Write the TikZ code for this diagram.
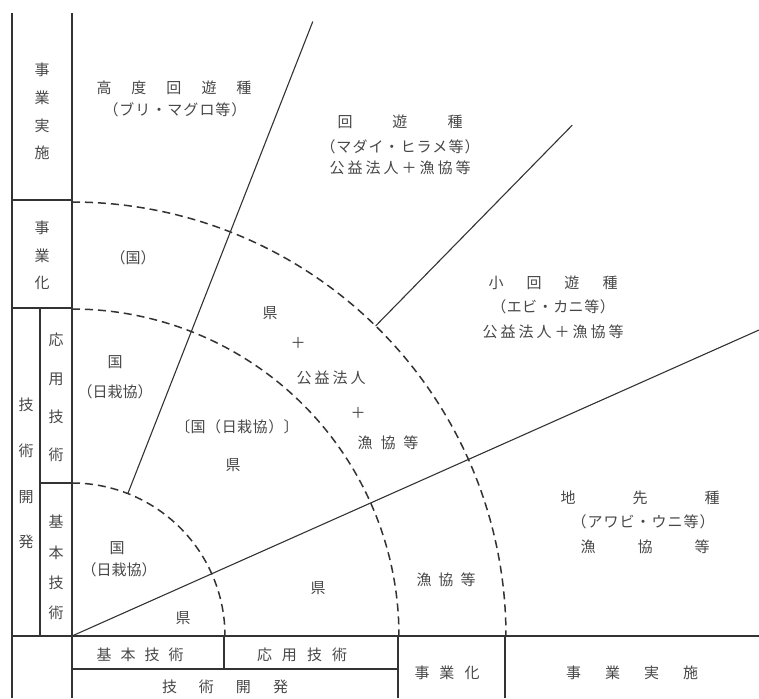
\documentclass[tikz,border=0pt]{standalone}
\usepackage{fontspec}
\setmainfont{Noto Sans CJK JP}
\usetikzlibrary{calc}
\makeatletter
\newcommand\spc[2]{\begingroup\def\spc@gap{#1}\let\spc@sep\relax\@tfor\spc@c:=#2\do{\spc@sep\spc@c\def\spc@sep{\hspace{\spc@gap pt}}}\endgroup}
\makeatother
\tikzset{
  txt/.style={font=\fontsize{15}{17}\selectfont, text=black!72, inner sep=0pt},
  vtxt/.style={align=center, text=black!72, inner sep=0pt, font=\fontsize{15}{#1}\selectfont},
  ln/.style={line width=1.1pt, draw=black!80},
  dsh/.style={line width=1.5pt, draw=black!80, dash pattern=on 8pt off 5pt}
}
\begin{document}
\begin{tikzpicture}[x=1pt,y=-1pt]
\useasboundingbox (0,0) rectangle (759,698);
\coordinate (O) at (72,636);
% frame lines
\draw[ln] (12,13) -- (12,698);
\draw[ln] (72,13) -- (72,698);
\draw[ln] (40,308) -- (40,636);
\draw[ln] (12,200) -- (72,200);
\draw[ln] (12,308) -- (72,308);
\draw[ln] (40,483) -- (72,483);
\draw[ln] (12,636) -- (759,636);
\draw[ln] (72,669) -- (398,669);
\draw[ln] (224,636) -- (224,669);
\draw[ln] (398,636) -- (398,698);
\draw[ln] (505,636) -- (505,698);
% dashed arcs
\draw[dsh] plot[domain=-90:0,samples=90] ({72+153*cos(\x)},{636+153*sin(\x)});
\draw[dsh] plot[domain=-90:0,samples=120] ({72+327*cos(\x)},{636+327*sin(\x)});
\draw[dsh] plot[domain=-90:0,samples=150] ({72+434*cos(\x)},{636+434*sin(\x)});
% rays
\coordinate (r1a) at ($(O)+(-68.6:153)$);
\coordinate (r1b) at ($(O)+(-68.6:660)$);
\coordinate (r2a) at ($(O)+(-45.6:434)$);
\coordinate (r2b) at ($(O)+(-45.6:715)$);
\coordinate (r3b) at (759,330);
\draw[ln] (r1a) -- (r1b);
\draw[ln] (r2a) -- (r2b);
\draw[ln] (O) -- (r3b);
% left column vertical texts
\node[vtxt=27.7] (t1) at (42,111.5) {事\\業\\実\\施};
\node[vtxt=27.5] (t2) at (42,255.5) {事\\業\\化};
\node[vtxt=45.7] (t3) at (26,473.5) {技\\術\\開\\発};
\node[vtxt=38.3] (t4) at (56,397.5) {応\\用\\技\\術};
\node[vtxt=30.3] (t5) at (56,567.5) {基\\本\\技\\術};
% bottom row
\node[txt] (b1) at (140,655) {\spc{9}{基本技術}};
\node[txt] (b2) at (302,655) {\spc{10}{応用技術}};
\node[txt] (b3) at (225,687) {\spc{22}{技術開発}};
\node[txt] (b4) at (447,673) {\spc{10}{事業化}};
\node[txt] (b5) at (632,673) {\spc{24}{事業実施}};
% sectors
\node[txt] (s1) at (174,88) {\spc{20}{高度回遊種}};
\node[txt] (s2) at (175,110) {\spc{1}{（ブリ・マグロ等）}};
\node[txt] (s3) at (133,258) {（国）};
\node[txt] (s4) at (400,122) {\spc{40}{回遊種}};
\node[txt] (s5) at (400,147) {\spc{1}{（マダイ・ヒラメ等）}};
\node[txt] (s6) at (400,168) {\spc{3}{公益法人＋漁協等}};
\node[txt] (s7) at (553,283) {\spc{23}{小回遊種}};
\node[txt] (s8) at (553,307) {\spc{0.5}{（エビ・カニ等）}};
\node[txt] (s9) at (553,332) {\spc{3}{公益法人＋漁協等}};
\node[txt] (c1) at (270,313) {県};
\node[txt] (c2) at (298,343) {＋};
\node[txt] (c3) at (331,378) {\spc{3}{公益法人}};
\node[txt] (c4) at (358,413) {＋};
\node[txt] (c5) at (388,443) {\spc{8}{漁協等}};
\node[txt] (k1) at (115,362) {国};
\node[txt] (k2) at (115,392) {（日栽協）};
\node[txt] (k3) at (237,427) {\spc{0.5}{〔国（日栽協）〕}};
\node[txt] (k4) at (233,465) {県};
\node[txt] (k5) at (117,548) {国};
\node[txt] (k6) at (119,570) {（日栽協）};
\node[txt] (k7) at (183,618) {県};
\node[txt] (k8) at (318,588) {県};
\node[txt] (k9) at (446,580) {\spc{7}{漁協等}};
\node[txt] (j1) at (640,498) {\spc{57}{地先種}};
\node[txt] (j2) at (643,522) {\spc{1}{（アワビ・ウニ等）}};
\node[txt] (j3) at (645,547) {\spc{42}{漁協等}};
\end{tikzpicture}
\end{document}
